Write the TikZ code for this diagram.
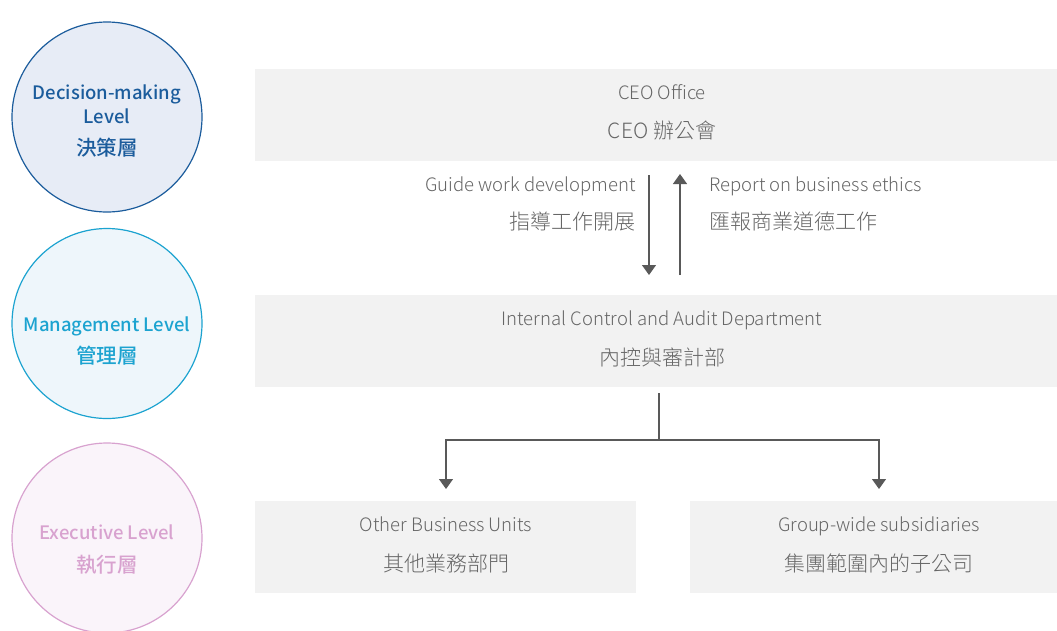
\documentclass[tikz,border=0pt]{standalone}
\usepackage{fontspec}
\setmainfont{Noto Sans CJK TC}
\newfontfamily\lightf{Noto Sans CJK TC Light}
\newfontfamily\medf{Noto Sans CJK TC Medium}
\usetikzlibrary{arrows.meta}
\definecolor{boxgray}{HTML}{F2F2F2}
\definecolor{txtgray}{HTML}{666666}
\definecolor{arrgray}{HTML}{595959}
\definecolor{dblue}{HTML}{1B5C9C}
\definecolor{dbluefill}{HTML}{E7ECF6}
\definecolor{lblue}{HTML}{1CA3D0}
\definecolor{lbluefill}{HTML}{EEF6FB}
\definecolor{pink}{HTML}{D8A2CF}
\definecolor{pinkfill}{HTML}{FAF4FA}
\begin{document}
\begin{tikzpicture}[x=1pt,y=-1pt,
  level/.style={circle, minimum size=190pt, inner sep=0pt, line width=1.2pt},
  ltxt/.style={inner sep=0pt, text height=13pt, text depth=0pt, font=\medf\fontsize{18.5}{22}\selectfont},
  ctxt/.style={inner sep=0pt, font=\medf\fontsize{20.5}{22}\selectfont},
  graybox/.style={fill=boxgray, draw=none, rectangle, anchor=north west},
  gtext/.style={text=txtgray, text height=13pt, text depth=0pt, font=\lightf\fontsize{18.5}{22}\selectfont, inner sep=0pt},
  gctext/.style={text=txtgray, font=\lightf\fontsize{21}{22}\selectfont, inner sep=0pt},
  conn/.style={draw=arrgray, line width=1.3pt},
  tip/.style={-{Triangle[width=14pt,length=10pt]}}
]
\useasboundingbox (0,0) rectangle (1057,630);
% level circles
\node[level, draw=dblue, fill=dbluefill] (c1) at (107,117) {};
\node[level, draw=lblue, fill=lbluefill] (c2) at (107,323.5) {};
\node[level, draw=pink, fill=pinkfill] (c3) at (107,538) {};
\node[ltxt, text=dblue] (c1a) at (107,93) {Decision-making};
\node[ltxt, text=dblue] (c1b) at (107,117) {Level};
\node[ctxt, text=dblue] (c1c) at (107,148) {決策層};
\node[ltxt, text=lblue] (c2a) at (107,325) {Management Level};
\node[ctxt, text=lblue] (c2b) at (107,356) {管理層};
\node[ltxt, text=pink] (c3a) at (107,533) {Executive Level};
\node[ctxt, text=pink] (c3b) at (107,565) {執行層};
% boxes
\node[graybox, minimum width=802pt, minimum height=92pt] (ceo) at (255,69) {};
\node[graybox, minimum width=802pt, minimum height=92pt] (icad) at (255,295) {};
\node[graybox, minimum width=381pt, minimum height=92pt] (obu) at (255,501) {};
\node[graybox, minimum width=367pt, minimum height=92pt] (gws) at (690,501) {};
% box texts
\node[gtext] (ceoA) at (662,93) {CEO Office};
\node[gctext] (ceoB) at (662,131) {CEO 辦公會};
\node[gtext] (icadA) at (662,319) {Internal Control and Audit Department};
\node[gctext] (icadB) at (662,357) {內控與審計部};
\node[gtext] (obuA) at (446,525) {Other Business Units};
\node[gctext] (obuB) at (446,563) {其他業務部門};
\node[gtext] (gwsA) at (879,525) {Group-wide subsidiaries};
\node[gctext] (gwsB) at (879,563) {集團範圍內的子公司};
% arrow labels
\node[gtext, anchor=east] (gA) at (636,185) {Guide work development};
\node[gctext, anchor=east] (gB) at (636,222) {指導工作開展};
\node[gtext, anchor=west] (rA) at (709,185) {Report on business ethics};
\node[gctext, anchor=west] (rB) at (709,222) {匯報商業道德工作};
% vertical arrows
\coordinate (d1) at (649,175);
\coordinate (d2) at (649,275);
\coordinate (u1) at (680,275);
\coordinate (u2) at (680,174);
\draw[conn, tip] (d1) -- (d2);
\draw[conn, tip] (u1) -- (u2);
% tree
\coordinate (t0) at (659,393);
\coordinate (t1) at (659,440);
\coordinate (tl) at (446,440);
\coordinate (tr) at (879,440);
\coordinate (al) at (446,489);
\coordinate (ar) at (879,489);
\draw[conn] (t0) -- (t1);
\draw[conn, tip] (t1) -- (tl) -- (al);
\draw[conn, tip] (t1) -- (tr) -- (ar);
\end{tikzpicture}
\end{document}
